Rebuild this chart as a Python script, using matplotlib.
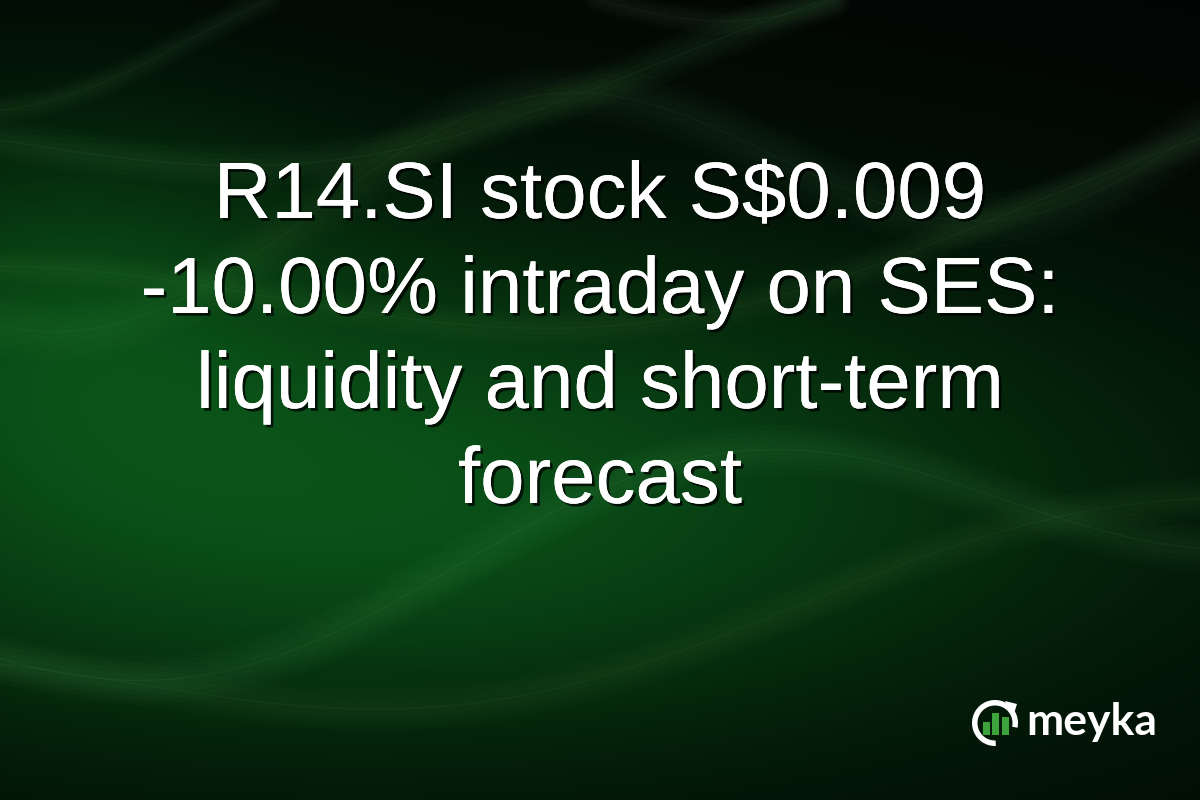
import numpy as np
import matplotlib.pyplot as plt
import matplotlib.patheffects as pe
from matplotlib.patches import Wedge, Rectangle, Polygon

# Texte
title_lines = [
    "R14.SI stock S$0.009",
    "-10.00% intraday on SES:",
    "liquidity and short-term",
    "forecast",
]
brand = "meyka"
logo_bars = [13, 22, 18]   # Balkenhöhen im Logo (px)

W, H = 1200, 800

fig = plt.figure(figsize=(12, 8), dpi=100)
ax = fig.add_axes([0, 0, 1, 1])
ax.set_xlim(0, W)
ax.set_ylim(H, 0)
ax.axis("off")

# Hintergrund: dunkelgrüner Verlauf
yy, xx = np.mgrid[0:H, 0:W]
xn = xx / W
yn = yy / H
glow = np.exp(-((xn - 0.3) ** 2 / 0.35 + (yn - 0.62) ** 2 / 0.09))
glow += 0.5 * np.exp(-((xn - 0.05) ** 2 / 0.05 + (yn - 0.35) ** 2 / 0.05))
glow = np.clip(glow, 0, 1.1)
dark_tr = np.clip((xn - 0.4) * 0.6 + (0.25 - yn) * 1.6, 0, 1)
r = 2 + 8 * glow
g = 12 + 68 * glow - 10 * dark_tr
b = 4 + 20 * glow
bg = np.dstack([r, g, b]) / 255.0
bg = np.clip(bg, 0, 1)
ax.imshow(bg, extent=[0, W, H, 0], zorder=0, aspect="auto")

# Lichtstreifen
xs = np.linspace(-50, 1250, 400)
streaks = [
    (140, 60, 0.9, 0.0, 0.05, 30),
    (250, 90, 1.3, 1.0, 0.04, 40),
    (330, -70, 0.8, 2.0, 0.04, 25),
    (620, 80, 1.1, 0.5, 0.05, 35),
    (700, -60, 0.9, 2.5, 0.04, 30),
    (60, 50, 1.6, 1.5, 0.04, 20),
]
for base, amp, freq, ph, a, lw in streaks:
    ys = base + amp * np.sin(freq * xs / W * 2 * np.pi + ph) - 0.12 * xs
    for k in range(4):
        ax.plot(xs, ys, color=(0.55, 0.9, 0.55), alpha=a * 0.4,
                lw=lw * (1 - k * 0.22), solid_capstyle="round", zorder=1)
    ax.plot(xs, ys, color=(0.7, 1.0, 0.7), alpha=a * 0.9, lw=1.0, zorder=1)

# Titel
baselines = [218, 313, 408, 503]
for line, yb in zip(title_lines, baselines):
    ax.text(600, yb, line, ha="center", va="baseline", color="white",
            fontsize=57.5, family="Liberation Sans", zorder=5,
            path_effects=[pe.withSimplePatchShadow(offset=(2, -2),
                                                   shadow_rgbFace="black",
                                                   alpha=0.75),
                          pe.Normal()])

# Logo
cx, cy, rad = 995, 723, 23
ax.add_patch(Wedge((cx, cy), rad, 88, 372, width=5.5, facecolor="white",
                   edgecolor="none", zorder=6))
ax.add_patch(Polygon([[cx + 10, cy - 22], [cx + 22, cy - 19],
                      [cx + 18, cy - 6]], closed=True,
                     facecolor="white", edgecolor="none", zorder=6))
bar_w = 7
for i, h in enumerate(logo_bars):
    x0 = cx - 12 + i * (bar_w + 2.3)
    ax.add_patch(Rectangle((x0, cy + 12 - h), bar_w, h,
                           facecolor="#3da33d", edgecolor="none", zorder=7))
ax.text(1026, 735, brand, ha="left", va="baseline", color="white",
        fontsize=32, fontweight="bold", family="Lato", zorder=6)

plt.savefig("out.png", dpi=100)
